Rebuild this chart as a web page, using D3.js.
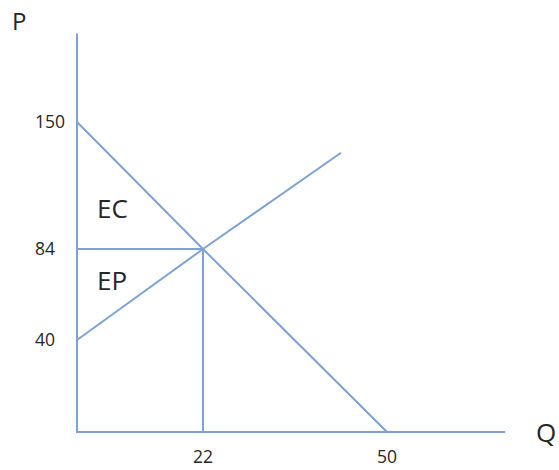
<!DOCTYPE html>
<html>
<head>
<meta charset="utf-8">
<script src="https://cdn.jsdelivr.net/npm/d3@7"></script>
<style>
	body { margin: 0; background: #fff; }
	text { font-family: 'Open Sans', sans-serif; fill: #262626; }
</style>
</head>
<body>
<div id="draw"></div>
<script>
// quantities and prices
var qTicks = [22, 50];
var pTicks = [150, 84, 40];
var demand = [{ q: 0, p: 150 }, { q: 22, p: 84 }, { q: 50, p: 0 }];
var supply = [{ q: 0, p: 40 }, { q: 22, p: 84 }, { q: 43, p: 134 }];
var priceLine = [{ q: 0, p: 84 }, { q: 22, p: 84 }, { q: 22, p: 0 }];
var areaLabels = ['EC', 'EP'];
var qMax = 68,
	pMax = 196;

var width = 559,
	height = 470,
	blue = '#7ea2d6';

var svg = d3
	.select('#draw')
	.append('svg')
	.attr('width', width)
	.attr('height', height);

// the sketch is not drawn to scale, so the scales are piecewise
var x = d3.scaleLinear().domain([0, 22, 50]).range([77, 203, 387]);
var y = d3.scaleLinear().domain([0, 40, 84, 150]).range([432, 340, 249, 122]);

var line = d3
	.line()
	.x(function (d) {
		return x(d.q);
	})
	.y(function (d) {
		return y(d.p);
	});

// axes
svg
	.append('path')
	.attr('d', line([{ q: 0, p: pMax }, { q: 0, p: 0 }, { q: qMax, p: 0 }]))
	.style('fill', 'none')
	.style('stroke', blue)
	.style('stroke-width', 2);

[demand, supply, priceLine].forEach(function (d) {
	svg
		.append('path')
		.attr('d', line(d))
		.style('fill', 'none')
		.style('stroke', blue)
		.style('stroke-width', 2);
});

// tick labels
svg
	.selectAll('ptick')
	.data(pTicks)
	.enter()
	.append('text')
	.attr('x', 35)
	.attr('y', function (d) {
		return y(d);
	})
	.attr('dy', '0.35em')
	.style('font-size', '17.5px')
	.text(function (d) {
		return d;
	});

svg
	.selectAll('qtick')
	.data(qTicks)
	.enter()
	.append('text')
	.attr('x', function (d) {
		return x(d);
	})
	.attr('y', 463)
	.style('text-anchor', 'middle')
	.style('font-size', '17.5px')
	.text(function (d) {
		return d;
	});

// area labels
svg
	.selectAll('area')
	.data(areaLabels)
	.enter()
	.append('text')
	.attr('x', x(3.5))
	.attr('y', function (d, i) {
		return i == 0 ? y(100) : y(64);
	})
	.style('font-size', '26px')
	.text(function (d) {
		return d;
	});

// axis titles
svg.append('text').attr('x', 12).attr('y', 30).style('font-size', '24px').text('P');
svg.append('text').attr('x', 536).attr('y', 442).style('font-size', '26px').text('Q');
</script>
</body>
</html>
